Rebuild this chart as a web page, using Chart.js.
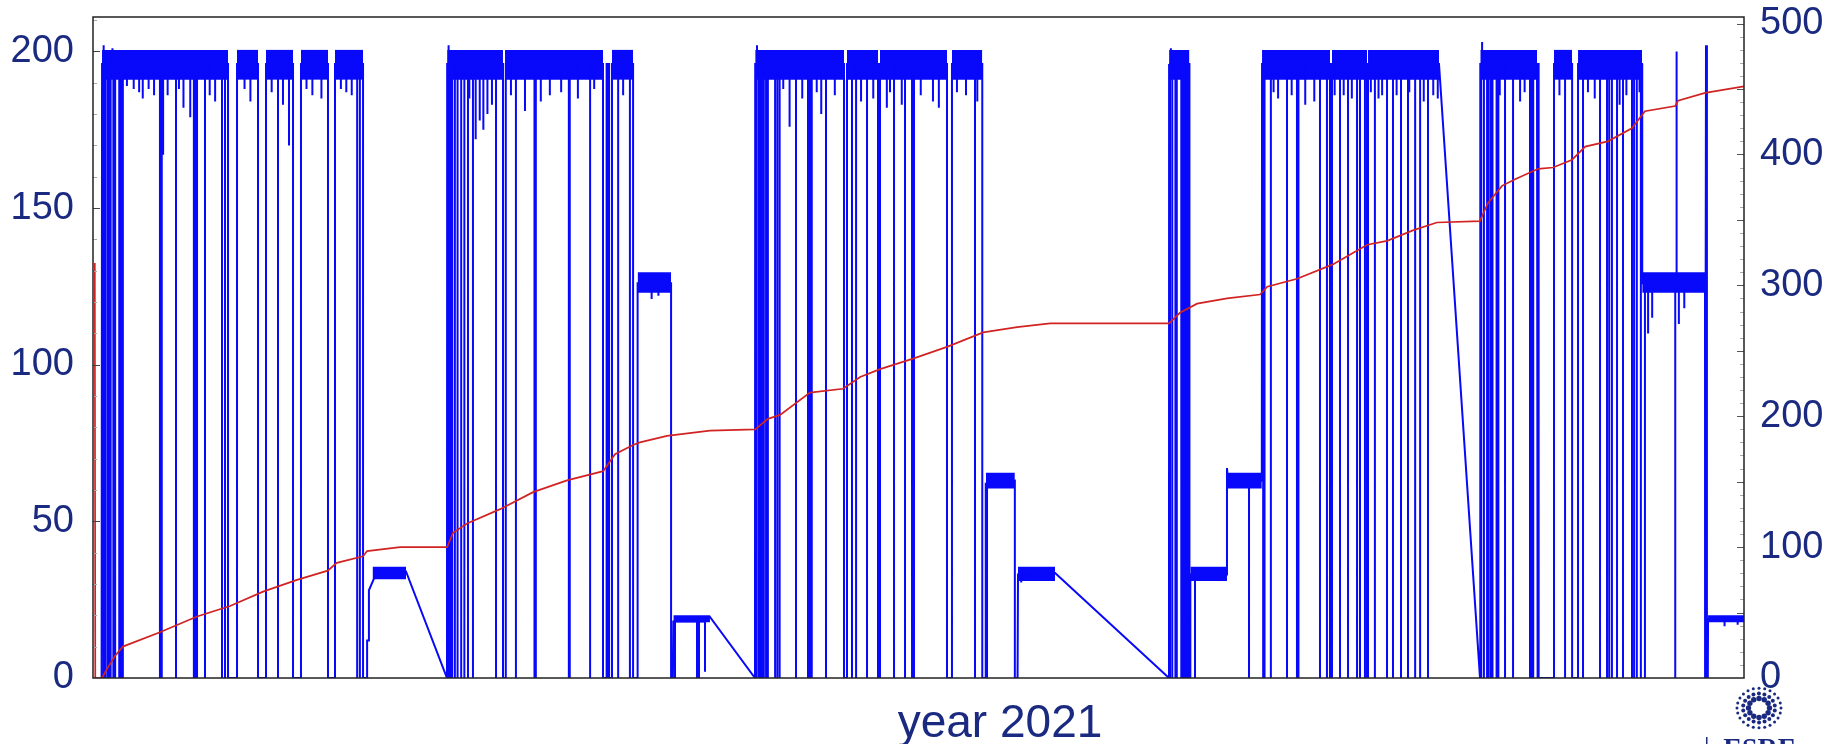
<!DOCTYPE html>
<html><head><meta charset="utf-8">
<script src="https://cdn.jsdelivr.net/npm/chart.js@4/dist/chart.umd.min.js"></script>
<style>html,body{margin:0;padding:0;background:#fff;overflow:hidden}canvas{display:block}</style>
</head><body>
<canvas id="c" width="1844" height="744"></canvas>
<script>
// ---- beam current (mA), anchor points: day of year 2021 ----
const beamDay = [1.9,2.0,59.7,59.7,60.6,60.6,61.0,61.0,62.5,69.2,
  78.26,78.3,119.4,119.4,120.3,120.4,127.8,127.8,128.2,128.3,
  136.4,146.35,146.4,196.6,196.6,197.3,197.3,197.4,197.4,203.8,
  203.8,204.4,204.5,212.7,237.88,237.9,242.4,242.4,242.6,242.6,
  250.7,250.7,250.9,258.4,258.45,297.57,306.64,306.7,342.46,342.5,
  356.38,356.4,356.6,356.8,357.0,357.05,365];
const beamMA = [0,196,196,0,0,12,12,28,33,34,
  0,196,196,0,0,126,126,0,0,18,
  19.5,0,196,196,0,0,10,10,62,63,
  0,0,33,33.5,0,196,196,0,0,33,
  33,67,63,63,196,196,0,196,196,126,
  126,0,202,0,0,18.8,19];

// ---- beam losses / refills / spikes: day, duration (days), value reached (mA) ----
const dipDay = [2.3,2.4,2.7,3.2,3.5,3.9,4.3,4.5,4.9,5.8,6.2,6.6,9.0,11.0,13.5,14.8,15.2,15.5,18.35,20.0,21.5,22.3,22.7,23.0,24.76,27.0,28.52,29.18,29.85,36.48,40.9,42.0,43.33,44.22,48.5,51.95,56.0,58.4,59.0,
  78.5,78.7,79.0,79.4,80.0,80.6,81.4,82.1,82.9,84.0,85.5,86.3,87.2,88.2,89.1,90.64,91.3,93.5,95.5,97.6,97.9,101.0,105.2,105.4,109.9,112.75,113.7,114.1,116.1,118.7,
  123.5,125.0,128.67,133.53,133.97,135.3,
  146.6,146.8,147.1,147.5,147.9,148.3,148.8,149.2,150.8,151.3,151.8,154.0,155.42,158.07,158.5,158.9,161.0,162.05,166.03,167.8,168.7,171.12,173.55,175.5,177.09,179.52,181.07,181.5,185.7,188.8,193.0,194.99,
  197.65,205.2,
  238.1,238.3,238.6,239.3,239.6,240.6,241.0,241.3,241.7,242.0,243.63,255.57,
  258.7,259.0,260.4,262.0,263.97,266.17,266.5,268.0,271.26,272.8,273.47,275.69,276.5,277.46,279.45,280.1,281.2,281.66,283.4,285.0,286.08,287.4,289.17,290.72,291.0,292.3,293.4,295.14,297.3,
  306.9,307.1,307.5,308.2,308.5,309.0,309.4,310.3,310.7,312.17,313.94,317.69,318.0,318.4,319.24,319.6,325.44,327.0,329.41,333.17,334.72,335.2,335.8,336.93,338.25,340.24,340.7,341.3,341.9,342.2,
  343.1,343.8,344.7,349.8,350.1,350.6,351.8,360.7,363.6];
const dipWidth = [0,0,0,0,0,0,0,0,0,0,0,0,0,0,0,0,0,0,0,0,0,0,0,0,0,0,0,0,1.99,1.77,0,0,0,1.76,0,1.55,0,0,0,
  0,0,0,0,0,0,0,0,0,0,0,0,0,0,0,0.45,0,0,0,0,0,0,0,0,0,0.8,0.3,0.64,0,0,
  0,0,0,0,0,0,
  0,0,0,0,0,0,0,0,0,0,0,0,0,0,0,0,0,0,0.66,0,0,0,0.44,0,0,0,0,0,0,1.1,0,0,
  0,0,
  0,0,0,0,0,0,0,0,0,0,0,0,
  0,0,0,0,0,0,0,0,0,0,0.44,0,0,0,0,0,0,0.22,0,0,0,0,0,0,0,0,0,0,0,
  0,0,0,0,0,0,0,0,0,0,0,0,0,0,0.2,3.4,0,1.31,0,0,0,0,0,0,0,0,0,0,0,0,
  0,0,0,0,0,0,0,0,0];
const dipTo = [0,202,0,0,0,0,201,0,0,0,0,0,188,185,186,0,0,167,0,182,179,0,0,0,0,184,0,0,0,0,0,183,170,0,186,0,187,0,0,
  0,202,0,0,0,0,0,0,0,0,178,175,180,183,0,0,0,0,181,0,0,186,0,0,0,0,0,0,0,0,
  121,122,0,0,0,2,
  0,202,0,0,0,0,0,0,0,0,0,176,0,0,0,0,180,0,0,0,0,0,0,182,0,0,0,0,184,0,186,0,
  0,30.5,
  0,201,0,0,0,0,0,0,0,0,0,0,
  0,0,0,185,0,0,0,183,0,0,0,0,186,0,0,0,0,0,0,186,0,0,0,0,187,0,0,0,185,
  0,203,0,0,0,0,0,0,0,0,0,0,0,0,0,0,0,0,0,0,0,0,0,0,0,0,0,0,187,0,
  0,110,115,0,200,113,118,16.5,17];

// ---- short current dips below the stored-beam band: day, value reached (mA) ----
const noiseDay = [7.5,10.2,12.3,16.5,19.0,25.8,33.5,34.8,39.5,47.2,50.5,54.8,57.2,
  83.2,84.6,92.4,99.0,103.5,107.2,110.8,117.2,
  152.6,156.8,160.0,164.0,169.8,172.5,176.2,178.8,183.0,187.0,191.0,195.5,
  261.0,265.0,270.0,274.5,278.3,282.5,284.2,288.2,294.2,296.3,
  311.0,315.5,316.5,324.2,330.5,332.0,337.5,339.0];
const noiseTo = [189,187,188,186,188,186,188,184,187,188,185,188,186,
  185,172,186,184,187,185,188,186,
  188,185,187,186,184,185,187,183,186,182,187,184,
  187,186,184,186,185,187,185,186,184,186,
  186,184,187,186,187,185,183,186];

// ---- fill bands (noise envelope of stored current) ----
const bandStart = [2.0,31.84,38.25,45.98,53.5,78.3,91.09,114.74,146.4,166.69,173.99,189.9,237.9,258.45,273.91,281.88,306.7,323.0,328.31,
  120.4,342.5, 197.4,250.9, 61.8,204.5,242.6, 128.3,357.05];
const bandEnd = [29.85,36.48,44.22,51.95,59.7,90.64,112.75,119.4,166.03,173.55,188.8,196.6,242.4,273.47,281.66,297.57,319.24,327.0,342.46,
  127.8,356.38, 203.8,258.4, 69.2,212.7,250.7, 136.4,365];
const bandLow = [191,191,191,191,191,191,191,191,191,191,191,191,191,191,191,191,191,191,191,
  123,123, 60.5,60.5, 31.5,31,31, 17.8,17.8];
const bandHigh = [200.5,200.5,200.5,200.5,200.5,200.5,200.5,200.5,200.5,200.5,200.5,200.5,200.5,200.5,200.5,200.5,200.5,200.5,200.5,
  129.5,129.5, 65.5,65.5, 35.5,35.5,35.5, 20,20];

// ---- integrated current (right axis) ----
const integDay = [0.4,0.5,2.0,3.1,4.9,6.6,14.8,23.0,30.3,37.6,45.1,51.9,53.9,59.7,60.6,67.9,78.3,79.6,82.7,90.0,97.3,104.8,112.8,115.4,119.4,120.9,126.9,136.4,146.4,149.2,151.9,158.5,165.8,169.6,174.0,181.3,188.8,196.8,204.3,211.6,237.9,240.3,244.1,250.7,258.0,259.6,266.2,274.1,281.7,286.1,291.8,297.1,306.6,308.4,311.5,314.4,319.5,322.8,327.0,329.9,334.9,340.2,343.1,349.8,350.4,356.4,365];
const integVal = [317,0,0,7,17,24,35,47,55,66,75,82,88,93,97,100,100,111,118,129,142,151,158,171,178,180,185,189,190,198,201,218,221,230,236,244,253,264,268,271,271,279,286,290,293,299,305,316,331,334,342,348,349,363,376,381,389,390,396,406,410,420,433,437,441,447,452];

const leftTicks = [0,50,100,150,200];
const rightTicks = [0,100,200,300,400,500];
const xTitle = 'year 2021';

const BLUE = 'rgb(8,8,250)';
const RED = 'rgb(210,35,35)';
const NAVY = '#1a2a80';
const FONT = '"Liberation Sans", Arial, sans-serif';

function buildCurrent(){
  const dips = dipDay.map((d,i)=>({d, w:dipWidth[i], m:dipTo[i]}))
    .concat(noiseDay.map((d,i)=>({d, w:0, m:noiseTo[i]})))
    .sort((a,b)=>a.d-b.d);
  const pts = []; let k = 0;
  for (let i = 0; i < beamDay.length; i++){
    pts.push({x: beamDay[i], y: beamMA[i]});
    if (i < beamDay.length - 1){
      while (k < dips.length && dips[k].d < beamDay[i+1]){
        if (dips[k].d > beamDay[i]){
          const L = beamMA[i], {d, w, m} = dips[k];
          pts.push({x:d,y:L},{x:d,y:m},{x:d+w,y:m},{x:d+w,y:L});
        }
        k++;
      }
    }
  }
  return pts;
}

const datasets = [];
datasets.push({label:'Integrated', data: integDay.map((d,i)=>({x:d,y:integVal[i]})), yAxisID:'y2',
  borderColor:RED, borderWidth:1.7, pointRadius:0, tension:0, fill:false, order:0});
datasets.push({label:'Current', data: buildCurrent(), yAxisID:'y',
  borderColor:BLUE, borderWidth:2, pointRadius:0, tension:0, fill:false, order:1});
for (let i = 0; i < bandStart.length; i++){
  datasets.push({label:'band'+i, data:[{x:bandStart[i],y:bandHigh[i]},{x:bandEnd[i],y:bandHigh[i]}], yAxisID:'y',
    borderColor:BLUE, borderWidth:0, pointRadius:0, tension:0, backgroundColor:BLUE,
    fill:{value:bandLow[i]}, order:2});
}

const decor = {
  id:'decor',
  afterDatasetsDraw(chart){
    const {ctx, chartArea:a, scales} = chart;
    ctx.save();
    ctx.lineWidth = 1;
    for (let v = 10; v <= 210; v += 10){
      const y = Math.round(scales.y.getPixelForValue(v)) + 0.5;
      const len = v % 50 === 0 ? 7 : 4;
      ctx.strokeStyle = v % 50 === 0 ? '#444' : '#aaa';
      ctx.beginPath(); ctx.moveTo(a.left, y); ctx.lineTo(a.left + len, y); ctx.stroke();
    }
    for (let v = 10; v <= 500; v += 10){
      const y = Math.round(scales.y2.getPixelForValue(v)) + 0.5;
      const len = v % 50 === 0 ? 7 : 4;
      ctx.strokeStyle = v % 50 === 0 ? '#555' : '#aaa';
      ctx.beginPath(); ctx.moveTo(a.right, y); ctx.lineTo(a.right - len, y); ctx.stroke();
    }
    ctx.strokeStyle = '#222';
    ctx.lineWidth = 1.5;
    ctx.strokeRect(a.left, a.top, a.right - a.left, a.bottom - a.top);
    ctx.restore();
  },
  afterDraw(chart){
    const ctx = chart.ctx;
    ctx.save();
    ctx.fillStyle = NAVY;
    ctx.font = '46px ' + FONT;
    ctx.textAlign = 'center';
    ctx.textBaseline = 'alphabetic';
    ctx.fillText(xTitle, 1000, 737);
    // ESRF logo (decoration)
    const cx = 1759, cy = 708;
    const rings = [[12,10.5,2.7],[18,16,2.0],[24,22,1.5]];
    for (const [n,r,s] of rings){
      for (let j = 0; j < n; j++){
        const t = j/n*Math.PI*2 + (n===18?0.17:0);
        ctx.beginPath(); ctx.arc(cx + Math.cos(t)*r, cy + Math.sin(t)*r*0.9, s, 0, Math.PI*2); ctx.fill();
      }
    }
    ctx.font = 'bold 28px "Liberation Serif", serif';
    ctx.textAlign = 'center';
    ctx.fillText('ESRF', 1759, 757);
    ctx.fillRect(1706, 737, 1.5, 8);
    ctx.restore();
  }
};

function fixY(w){ return function(s){ s.width = w; s.paddingTop = 0; s.paddingBottom = 0; }; }

new Chart(document.getElementById('c'), {
  type:'line',
  data:{datasets},
  options:{
    responsive:false, animation:false, devicePixelRatio:1,
    layout:{padding:{top:17, left:0, right:0, bottom:0}},
    plugins:{legend:{display:false}, tooltip:{enabled:false}},
    scales:{
      x:{type:'linear', min:0, max:365, display:true,
        ticks:{display:false}, grid:{display:false, drawTicks:false}, border:{display:false},
        afterFit(s){ s.height = 66; s.paddingLeft = 0; s.paddingRight = 0; }},
      y:{type:'linear', position:'left', min:0, max:211,
        afterBuildTicks(s){ s.ticks = leftTicks.map(v=>({value:v})); },
        ticks:{color:NAVY, font:{size:38, family:FONT}, padding:19, includeBounds:false},
        grid:{display:false, drawTicks:false}, border:{display:false},
        afterFit: fixY(93)},
      y2:{type:'linear', position:'right', min:0, max:505,
        afterBuildTicks(s){ s.ticks = rightTicks.map(v=>({value:v})); },
        ticks:{color:NAVY, font:{size:38, family:FONT}, padding:16, includeBounds:false},
        grid:{display:false, drawTicks:false}, border:{display:false},
        afterFit: fixY(100)}
    }
  },
  plugins:[decor]
});
</script>
</body></html>
